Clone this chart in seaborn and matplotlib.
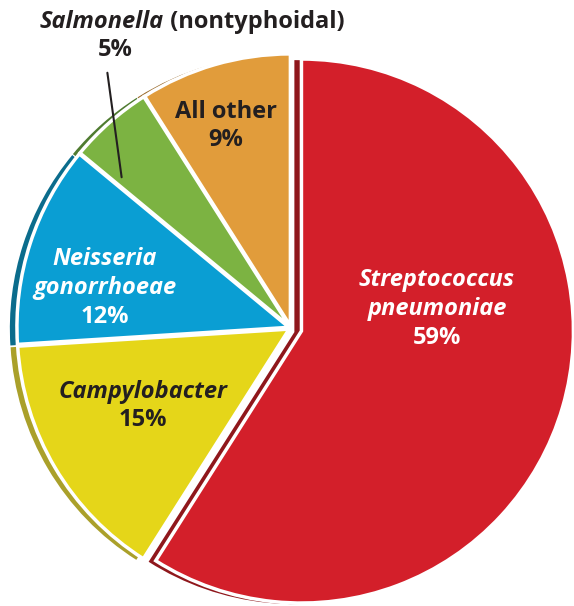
import numpy as np
import matplotlib
matplotlib.use("Agg")
import matplotlib.pyplot as plt
import seaborn as sns

# pathogen shares, clockwise from 12 o'clock
pathogens = ["Streptococcus\npneumoniae", "Campylobacter", "Neisseria\ngonorrhoeae",
             "Salmonella", "All other"]
shares = [59, 15, 12, 5, 9]
italic_name = [True, True, True, True, False]
face_colors = ["#d31f2a", "#e5d619", "#0a9ed3", "#7cb342", "#e19c3b"]
edge_colors = ["#8f171c", "#aaa02a", "#0b6c8c", "#4f7b30", "#9a6a2a"]
text_colors = ["white", "#231f20", "white", "#231f20", "#231f20"]
explode = [0.04, 0.008, 0.008, 0.008, 0.008]

sns.set_style("white")
plt.rcParams["font.family"] = ["Open Sans", "Noto Sans", "DejaVu Sans"]

fig = plt.figure(figsize=(5.74, 6.06), dpi=100)
ax = fig.add_axes([0, 0, 1, 1])

R = 272.0
cx, cy = 291.0, 328.0
W, H = 574.0, 606.0

# darker "extruded" rim, drawn behind the faces with a small shift to the left
ax.pie(shares, colors=edge_colors, startangle=90, counterclock=False,
       explode=explode, radius=1.0, center=(-0.026, -0.004),
       wedgeprops=dict(linewidth=0))
wedges, _ = ax.pie(shares, colors=face_colors, startangle=90, counterclock=False,
                   explode=explode, radius=1.0,
                   wedgeprops=dict(linewidth=2.5, edgecolor="white"))

ax.set_xlim(-cx / R, (W - cx) / R)
ax.set_ylim(-(H - cy) / R, cy / R)
ax.set_aspect("auto")
ax.axis("off")


def px(x, y):
    return (x - cx) / R, (cy - y) / R


fs = 17
label_pos = {
    0: (437, 309),
    1: (143, 406),
    2: (105, 288),
    4: (226, 126),
}
for i, (x, y) in label_pos.items():
    lines = pathogens[i].split("\n")
    n = len(lines) + 1
    step = 29
    top = y - step * (n - 1) / 2
    for k, line in enumerate(lines):
        ax.text(*px(x, top + k * step), line, ha="center", va="center",
                fontsize=fs, fontweight="bold",
                fontstyle="italic" if italic_name[i] else "normal",
                color=text_colors[i])
    ax.text(*px(x, top + (n - 1) * step), f"{shares[i]}%", ha="center",
            va="center", fontsize=fs, fontweight="bold", color=text_colors[i])

# Salmonella label sits above the pie with a leader line
ax.text(*px(164, 22), pathogens[3], ha="right", va="center", fontsize=fs,
        fontweight="bold", fontstyle="italic", color="#231f20")
ax.text(*px(164, 22), " (nontyphoidal)", ha="left", va="center", fontsize=fs,
        fontweight="bold", color="#231f20")
ax.text(*px(115, 50), f"{shares[3]}%", ha="center", va="center", fontsize=fs,
        fontweight="bold", color="#231f20")
ax.annotate("", xy=px(122, 180), xytext=px(107, 70),
            arrowprops=dict(arrowstyle="-", color="#231f20", lw=1.5))

fig.savefig("out.png", dpi=100)
